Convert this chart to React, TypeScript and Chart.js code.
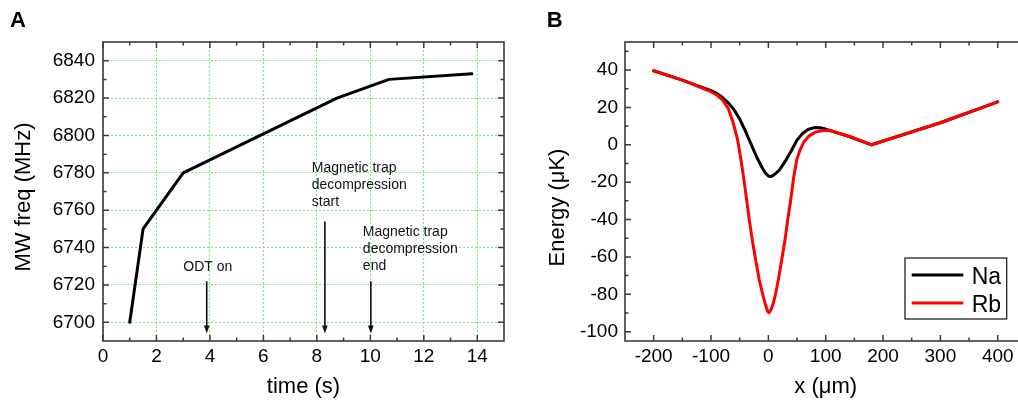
import React, { useEffect, useRef } from 'react';
import { Chart, registerables } from 'chart.js';

Chart.register(...registerables);

const FONT = "'Liberation Sans', Arial, Helvetica, sans-serif";
const GRID_GREEN = 'rgb(120, 230, 120)';
const FRAME = '#3a3a3a';

// ---------- Panel A data ----------
const timeS = [1, 1.5, 3, 8.75, 10.7, 13.8];
const mwFreqMHz = [6700, 6750, 6780, 6820, 6830, 6833];
const xTicksA = [0, 2, 4, 6, 8, 10, 12, 14];
const yTicksA = [6700, 6720, 6740, 6760, 6780, 6800, 6820, 6840];

const eventLabels = [
  ['ODT on'],
  ['Magnetic trap', 'decompression', 'start'],
  ['Magnetic trap', 'decompression', 'end'],
];
const eventTimes = [3.88, 8.3, 10.02];
const eventArrowTop = [6722, 6754, 6722];
const eventArrowBottom = 6694;
const eventLabelX = [3.92, 7.81, 9.72];
const eventLabelY = [6727.3, 6780.2, 6746.3];
const eventLabelAlign = ['center', 'left', 'left'];

// ---------- Panel B data ----------
const naX = [-200, -150, -100, -90, -80, -70, -60, -50, -40, -30, -20, -10, -5, 0, 3, 6, 10, 15, 20, 30, 40, 50, 60, 70, 80, 90, 100, 142.5, 180, 300, 400];
const naEnergy = [39.6, 34.6, 29, 27.5, 25.3, 22.5, 18.8, 13.8, 7.3, 0.2, -6.8, -12.7, -15.2, -16.6, -17, -16.8, -16, -14.8, -13.2, -8.5, -3.2, 2.5, 6.2, 8.3, 9.2, 9.1, 8.4, 4.3, 0, 11.8, 23];
const rbX = [-200, -150, -100, -90, -80, -70, -61, -53.5, -47.7, -42.5, -37.8, -33.2, -28, -22.1, -15.8, -8.8, -5.5, -2.9, -1, 1, 3, 5.5, 8.5, 11.6, 17.3, 23.3, 29, 33.7, 39, 43.5, 49.4, 55, 62, 70, 80, 90, 100, 110, 142.5, 180, 300, 400];
const rbEnergy = [39.6, 34.6, 28.4, 26.6, 24, 19.5, 11.5, 2.5, -8.2, -18.9, -29.6, -40.3, -51, -61.7, -72.4, -81.3, -85, -87.6, -89.2, -89.9, -89.2, -87.6, -84.8, -81.3, -72.4, -61.7, -51, -40.3, -29.6, -18.9, -8.2, -3, 1.5, 4.5, 6.5, 7.4, 7.8, 7.4, 4.3, 0, 11.8, 23];
const xTicksB = [-200, -100, 0, 100, 200, 300, 400];
const yTicksB = [-100, -80, -60, -40, -20, 0, 20, 40];

function minorsOf(majors: number[], min: number, max: number): number[] {
  const step = majors[1] - majors[0];
  const out: number[] = [];
  for (let v = majors[0] - step / 2; v < max; v += step) {
    if (v > min && v < max && !majors.includes(v)) out.push(v);
  }
  return out;
}

function framePlugin(cfg: any) {
  return {
    id: 'frameTicks' + cfg.label,
    afterDatasetsDraw(chart: any) {
      if (cfg.annotations) cfg.annotations(chart);
      if (cfg.legend) cfg.legend(chart);
    },
    afterDraw(chart: any) {
      const { ctx, chartArea } = chart;
      const { left, right, top, bottom } = chartArea;
      const xs = chart.scales.x;
      const ys = chart.scales.y;
      ctx.save();
      ctx.strokeStyle = FRAME;
      ctx.lineWidth = 1.6;
      ctx.strokeRect(left, top, right - left, bottom - top);
      const major = 6;
      const minor = 3.5;
      const drawX = (v: number, len: number) => {
        const px = xs.getPixelForValue(v);
        ctx.beginPath();
        ctx.moveTo(px, bottom);
        ctx.lineTo(px, bottom - len);
        ctx.moveTo(px, top);
        ctx.lineTo(px, top + len);
        ctx.stroke();
      };
      const drawY = (v: number, len: number) => {
        const py = ys.getPixelForValue(v);
        ctx.beginPath();
        ctx.moveTo(left, py);
        ctx.lineTo(left + len, py);
        ctx.moveTo(right, py);
        ctx.lineTo(right - len, py);
        ctx.stroke();
      };
      ctx.lineWidth = 1.5;
      cfg.xMajor.forEach((v: number) => drawX(v, major));
      minorsOf(cfg.xMajor, xs.min, xs.max).forEach((v) => drawX(v, minor));
      cfg.yMajor.forEach((v: number) => drawY(v, major));
      minorsOf(cfg.yMajor, ys.min, ys.max).forEach((v) => drawY(v, minor));
      // y-axis title
      ctx.fillStyle = '#000';
      ctx.font = `22px ${FONT}`;
      ctx.textAlign = 'center';
      ctx.textBaseline = 'middle';
      ctx.translate(cfg.yTitleX, cfg.yTitleY);
      ctx.rotate(-Math.PI / 2);
      ctx.fillText(cfg.yTitle, 0, 0);
      ctx.setTransform(1, 0, 0, 1, 0, 0);
      // panel letter
      ctx.font = `bold 22px ${FONT}`;
      ctx.textAlign = 'left';
      ctx.textBaseline = 'alphabetic';
      ctx.fillText(cfg.label, cfg.labelX, 27);
      ctx.restore();
    },
  };
}

function axisCommon(min: number, max: number, ticks: number[], title: string, isY: boolean, size: number, tickPad: number, showGrid: boolean) {
  return {
    type: 'linear',
    min,
    max,
    afterFit: (s: any) => {
      if (isY) s.width = size;
      else s.height = size;
    },
    afterBuildTicks: (s: any) => {
      s.ticks = ticks.map((v) => ({ value: v }));
    },
    ticks: {
      font: { family: FONT, size: 19 },
      color: '#000',
      padding: tickPad,
      maxRotation: 0,
      autoSkip: false,
      callback: (v: any) => String(v),
    },
    grid: {
      display: showGrid,
      drawOnChartArea: showGrid,
      color: GRID_GREEN,
      lineWidth: 1,
      drawTicks: false,
    },
    border: { display: false, dash: [2, 2] },
    title: {
      display: !isY,
      text: title,
      font: { family: FONT, size: 22 },
      color: '#000',
      padding: { top: 0, bottom: 0 },
    },
  };
}

function ChartA() {
  const ref = useRef<HTMLCanvasElement>(null);
  useEffect(() => {
    const annotations = (chart: any) => {
      const { ctx } = chart;
      const xs = chart.scales.x;
      const ys = chart.scales.y;
      ctx.save();
      ctx.strokeStyle = '#111';
      ctx.fillStyle = '#111';
      ctx.lineWidth = 1.6;
      eventTimes.forEach((t, i) => {
        const px = xs.getPixelForValue(t);
        const y0 = ys.getPixelForValue(eventArrowTop[i]);
        const y1 = ys.getPixelForValue(eventArrowBottom);
        ctx.beginPath();
        ctx.moveTo(px, y0);
        ctx.lineTo(px, y1 - 6);
        ctx.stroke();
        ctx.beginPath();
        ctx.moveTo(px - 2.8, y1 - 8);
        ctx.lineTo(px + 2.8, y1 - 8);
        ctx.lineTo(px, y1);
        ctx.closePath();
        ctx.fill();
      });
      ctx.font = `14px ${FONT}`;
      ctx.textBaseline = 'alphabetic';
      eventLabels.forEach((lines, i) => {
        ctx.textAlign = eventLabelAlign[i];
        const lx = xs.getPixelForValue(eventLabelX[i]);
        const ly = ys.getPixelForValue(eventLabelY[i]);
        lines.forEach((ln, j) => ctx.fillText(ln, lx, ly + j * 17));
      });
      ctx.restore();
    };
    const chart = new Chart(ref.current!, {
      type: 'line',
      data: {
        datasets: [
          {
            label: 'MW freq',
            data: timeS.map((t, i) => ({ x: t, y: mwFreqMHz[i] })),
            borderColor: '#000',
            borderWidth: 3,
            pointRadius: 0,
            tension: 0,
            borderJoinStyle: 'round',
            borderCapStyle: 'round',
          },
        ],
      },
      options: {
        responsive: false,
        animation: false,
        devicePixelRatio: 1,
        layout: { padding: { left: 0, right: 16, top: 42, bottom: 0 } },
        plugins: { legend: { display: false }, tooltip: { enabled: false } },
        scales: {
          x: axisCommon(0, 15, xTicksA, 'time (s)', false, 59, 4, true),
          y: axisCommon(6690, 6850, yTicksA, 'MW freq (MHz)', true, 103, 8, true),
        },
      } as any,
      plugins: [framePlugin({ label: 'A', labelX: 10, xMajor: xTicksA, yMajor: yTicksA, annotations, yTitle: 'MW freq (MHz)', yTitleX: 24, yTitleY: 197 })],
    });
    return () => chart.destroy();
  }, []);
  return <canvas ref={ref} width={520} height={400} style={{ position: 'absolute', left: 0, top: 0, width: 520, height: 400 }} />;
}

function ChartB() {
  const ref = useRef<HTMLCanvasElement>(null);
  useEffect(() => {
    const legend = (chart: any) => {
      const { ctx } = chart;
      ctx.save();
      const bx = 385, by = 258, bw = 101.7, bh = 61;
      ctx.fillStyle = '#fff';
      ctx.fillRect(bx, by, bw, bh);
      ctx.strokeStyle = '#222';
      ctx.lineWidth = 1.3;
      ctx.strokeRect(bx, by, bw, bh);
      const items = ['Na', 'Rb'];
      const rows = [275, 303];
      ctx.font = `23px ${FONT}`;
      ctx.textAlign = 'left';
      ctx.textBaseline = 'middle';
      items.forEach((name, i) => {
        const ds = chart.data.datasets.find((d: any) => d.label === name);
        ctx.strokeStyle = ds.borderColor;
        ctx.lineWidth = 3;
        ctx.beginPath();
        ctx.moveTo(bx + 6.7, rows[i]);
        ctx.lineTo(bx + 58.3, rows[i]);
        ctx.stroke();
        ctx.fillStyle = '#000';
        ctx.fillText(name, bx + 66.7, rows[i] + 2.5);
      });
      ctx.restore();
    };
    const chart = new Chart(ref.current!, {
      type: 'line',
      data: {
        datasets: [
          {
            label: 'Na',
            data: naX.map((x, i) => ({ x, y: naEnergy[i] })),
            borderColor: '#000000',
            borderWidth: 3,
            pointRadius: 0,
            tension: 0,
            order: 1,
            borderJoinStyle: 'round',
            borderCapStyle: 'round',
          },
          {
            label: 'Rb',
            data: rbX.map((x, i) => ({ x, y: rbEnergy[i] })),
            borderColor: '#ff0000',
            borderWidth: 3,
            pointRadius: 0,
            tension: 0,
            order: 0,
            borderJoinStyle: 'round',
            borderCapStyle: 'round',
          },
        ],
      },
      options: {
        responsive: false,
        animation: false,
        devicePixelRatio: 1,
        layout: { padding: { left: 0, right: 3.6, top: 42, bottom: 0 } },
        plugins: { legend: { display: false }, tooltip: { enabled: false } },
        scales: {
          x: axisCommon(-250, 450, xTicksB, 'x (\u03bcm)', false, 59, 4, false),
          y: axisCommon(-105, 55, yTicksB, 'Energy (\u03bcK)', true, 105, 7, false),
        },
      } as any,
      plugins: [framePlugin({ label: 'B', labelX: 26.7, xMajor: xTicksB, yMajor: yTicksB, legend, yTitle: 'Energy (\u03bcK)', yTitleX: 38, yTitleY: 207.5 })],
    });
    return () => chart.destroy();
  }, []);
  return <canvas ref={ref} width={510} height={400} style={{ position: 'absolute', left: 520, top: 0, width: 510, height: 400 }} />;
}

export default function App() {
  return (
    <div style={{ position: 'absolute', left: 0, top: 0, width: 1018, height: 400, overflow: 'hidden', background: '#fff' }}>
      <ChartA />
      <ChartB />
    </div>
  );
}
